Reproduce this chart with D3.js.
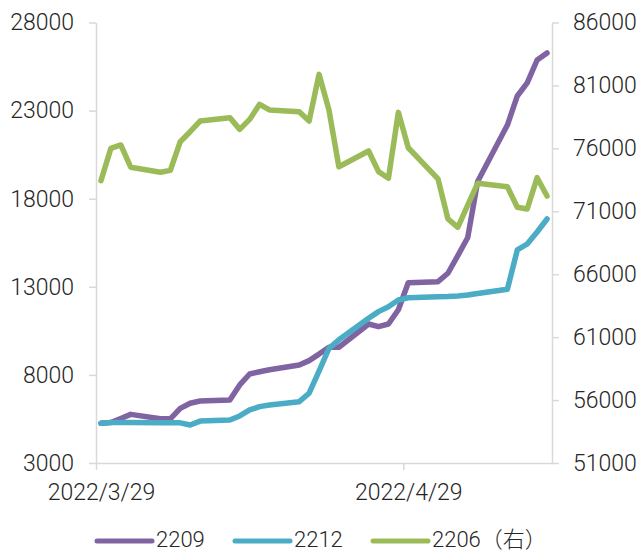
<!DOCTYPE html>
<html>
<head>
<meta charset="utf-8">
<script src="https://cdn.jsdelivr.net/npm/d3@7"></script>
<style>
  body { margin: 0; background: #fff; }
  svg text { font-family: Roboto, "Noto Sans CJK SC", sans-serif; font-weight: 300; fill: #262626; }
</style>
</head>
<body>
<svg id="chart" width="642" height="553"></svg>
<script>
(function () {

  'use strict';

  // trading days shown on the chart
  var dates = ['2022-03-29', '2022-03-30', '2022-03-31', '2022-04-01', '2022-04-04', '2022-04-05',
    '2022-04-06', '2022-04-07', '2022-04-08', '2022-04-11', '2022-04-12', '2022-04-13', '2022-04-14',
    '2022-04-15', '2022-04-18', '2022-04-19', '2022-04-20', '2022-04-21', '2022-04-22', '2022-04-25',
    '2022-04-26', '2022-04-27', '2022-04-28', '2022-04-29', '2022-05-02', '2022-05-03', '2022-05-04',
    '2022-05-05', '2022-05-06', '2022-05-09', '2022-05-10', '2022-05-11', '2022-05-12', '2022-05-13'];

  var s2209 = [5253, 5300, 5530, 5760, 5510, 5510, 6100, 6390, 6520, 6580, 7430, 8050, 8180, 8290,
    8560, 8810, 9180, 9570, 9570, 10890, 10740, 10890, 11700, 13230, 13290, 13770, 14770, 15800,
    18980, 22180, 23830, 24570, 25870, 26270];

  var s2212 = [5253, 5300, 5300, 5300, 5290, 5290, 5280, 5160, 5380, 5440, 5670, 6010, 6200, 6290,
    6480, 6960, 8220, 9510, 9990, 11210, 11590, 11870, 12250, 12380, 12440, 12450, 12480, 12530,
    12620, 12860, 15090, 15430, 16110, 16850];

  // right axis
  var s2206 = [73430, 76000, 76270, 74500, 74100, 74250, 76530, 77320, 78170, 78440, 77510, 78300,
    79500, 79050, 78910, 78170, 81880, 79050, 74540, 75790, 74150, 73620, 78860, 76050, 73570,
    70390, 69730, 71480, 73220, 72950, 71320, 71180, 73670, 72210];

  var leftTicks = [3000, 8000, 13000, 18000, 23000, 28000];
  var rightTicks = [51000, 56000, 61000, 66000, 71000, 76000, 81000, 86000];
  var xTicks = ['2022-03-29', '2022-04-29'];
  var xStart = '2022-03-29', xEnd = '2022-05-14';

  var seriesNames = ['2209', '2212', '2206（右）'];
  var colors = ['#8064a2', '#4bacc6', '#9bbb59'];

  var parse = d3.timeParse('%Y-%m-%d');
  var fmt = d3.timeFormat('%Y/%-m/%-d');
  var axisColor = '#d9d9d9';

  var svg = d3.select('#chart');

  var x = d3.scaleTime()
    .domain([parse(xStart), parse(xEnd)])
    .range([96, 552]);
  var yL = d3.scaleLinear().domain([3000, 28000]).range([463, 22.5]);
  var yR = d3.scaleLinear().domain([51000, 86000]).range([463, 22.5]);

  // points sit in the middle of their day
  function mid(s) { return d3.timeHour.offset(parse(s), 12); }
  var halfDay = x(mid(xStart)) - x(parse(xStart));

  function styleAxis(g) {
    g.select('.domain').attr('stroke', axisColor).attr('stroke-width', 1.5);
    g.selectAll('.tick line').attr('stroke', axisColor).attr('stroke-width', 1.5);
    g.selectAll('.tick text').attr('font-size', 23).attr('fill', '#262626')
      .style('font-family', 'Roboto, sans-serif').style('font-weight', 300);
  }

  svg.append('g')
    .attr('transform', 'translate(96,0)')
    .call(d3.axisLeft(yL).tickValues(leftTicks).tickFormat(d3.format('d'))
      .tickSize(7).tickSizeOuter(0).tickPadding(15))
    .call(styleAxis);

  svg.append('g')
    .attr('transform', 'translate(552,0)')
    .call(d3.axisRight(yR).tickValues(rightTicks).tickFormat(d3.format('d'))
      .tickSize(7).tickSizeOuter(0).tickPadding(14))
    .call(styleAxis);

  var xAxis = svg.append('g')
    .attr('transform', 'translate(0,463)')
    .call(d3.axisBottom(x).tickValues(xTicks.map(parse)).tickFormat(fmt)
      .tickSize(7).tickSizeOuter(0).tickPadding(14))
    .call(styleAxis);
  xAxis.selectAll('.tick text').attr('dx', halfDay);

  var lineL = d3.line()
    .x(function (d) { return x(mid(d.date)); })
    .y(function (d) { return yL(d.v); });
  var lineR = d3.line()
    .x(function (d) { return x(mid(d.date)); })
    .y(function (d) { return yR(d.v); });

  function rows(values) {
    return values.map(function (v, i) { return { date: dates[i], v: v }; });
  }

  var series = [
    { data: rows(s2209), line: lineL },
    { data: rows(s2212), line: lineL },
    { data: rows(s2206), line: lineR }
  ];

  series.forEach(function (s, i) {
    svg.append('path')
      .datum(s.data)
      .attr('d', s.line)
      .attr('fill', 'none')
      .attr('stroke', colors[i])
      .attr('stroke-width', 5.5)
      .attr('stroke-linejoin', 'round')
      .attr('stroke-linecap', 'round');
  });

  // ----------- LEGEND --------------
  var legendX = [97, 235, 373];
  var legend = svg.append('g').attr('class', 'legend');
  var item = legend.selectAll('g')
    .data(seriesNames)
    .enter()
    .append('g')
    .attr('transform', function (d, i) { return 'translate(' + legendX[i] + ',541)'; });

  item.append('line')
    .attr('x1', 0).attr('x2', 55)
    .attr('stroke', function (d, i) { return colors[i]; })
    .attr('stroke-width', 5)
    .attr('stroke-linecap', 'round');

  item.append('text')
    .attr('x', 59)
    .attr('y', 6)
    .attr('font-size', 22)
    .text(function (d) { return d; });

})();
</script>
</body>
</html>
